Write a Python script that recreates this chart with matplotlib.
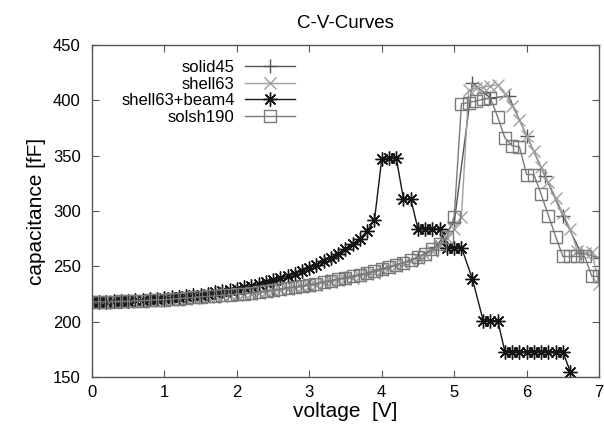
import matplotlib
matplotlib.use("Agg")
import matplotlib.pyplot as plt

plt.rcParams['font.family'] = ['Liberation Sans', 'DejaVu Sans']

# voltage grid shared by shell63 and solsh190 (0.1 V steps)
volt = [0.0, 0.1, 0.2, 0.3, 0.4, 0.5, 0.6, 0.7, 0.8, 0.9,
        1.0, 1.1, 1.2, 1.3, 1.4, 1.5, 1.6, 1.7, 1.8, 1.9,
        2.0, 2.1, 2.2, 2.3, 2.4, 2.5, 2.6, 2.7, 2.8, 2.9,
        3.0, 3.1, 3.2, 3.3, 3.4, 3.5, 3.6, 3.7, 3.8, 3.9,
        4.0, 4.1, 4.2, 4.3, 4.4, 4.5, 4.6, 4.7, 4.8, 4.9,
        5.0, 5.1, 5.2, 5.3, 5.4, 5.5, 5.6, 5.7, 5.8, 5.9,
        6.0, 6.1, 6.2, 6.3, 6.4, 6.5, 6.6, 6.7, 6.8, 6.9, 7.0]

solsh190 = [218, 218, 218, 218, 218.5, 218.5, 219, 219, 219.5, 220,
            220, 220.5, 221, 221.5, 222, 222.5, 223, 223.5, 224, 224.5,
            225, 225.5, 226, 227, 227.5, 228.5, 229.5, 230.5, 231.5, 232.5,
            233.5, 234.5, 236, 237, 238.5, 239.5, 241, 242.5, 244, 245.5,
            247.5, 249.5, 251.5, 253.5, 255.5, 258.5, 261.5, 265.5, 270, 277,
            295, 397, 398, 399.5, 401, 402, 385, 366, 359, 358,
            333, 333, 315, 296, 277, 259, 259, 259, 259, 241, 241]

shell63 = [217.5, 217.5, 217.5, 217.5, 218, 218, 218.5, 218.5, 219, 219.5,
           219.5, 220, 220.5, 221, 221.5, 222, 222.5, 223, 223.5, 224,
           224.5, 225, 225.5, 226, 226.5, 227.5, 228.5, 229.5, 230.5, 231.5,
           232.5, 233.5, 235, 236, 237.5, 238.5, 240, 241.5, 243, 244.5,
           246.5, 248.5, 250.5, 252.5, 254.5, 257.5, 260.5, 264, 268.5, 276,
           284, 295, 409, 411, 412, 413, 414, 406, 395, 382,
           368, 354, 340, 326, 312, 298, 284, 264, 262, 263, 234]

# solid45 was sampled every 0.25 V
volt_solid = [0.0, 0.25, 0.5, 0.75, 1.0, 1.25, 1.5, 1.75, 2.0, 2.25,
              2.5, 2.75, 3.0, 3.25, 3.5, 3.75, 4.0, 4.25, 4.5, 4.75,
              5.0, 5.25, 5.5, 5.75, 6.0, 6.25, 6.5, 6.75, 7.0]
solid45 = [218, 218, 218.5, 219, 220, 221, 222.5, 223.5, 225, 226.5,
           228.5, 231, 233.5, 236.5, 240, 243.5, 248, 252, 258, 268,
           290, 416, 402, 404, 368, 332, 296, 262, 258]

volt_beam = [0.0, 0.1, 0.2, 0.3, 0.4, 0.5, 0.6, 0.7, 0.8, 0.9,
             1.0, 1.1, 1.2, 1.3, 1.4, 1.5, 1.6, 1.7, 1.8, 1.9,
             2.0, 2.1, 2.2, 2.3, 2.4, 2.5, 2.6, 2.7, 2.8, 2.9,
             3.0, 3.1, 3.2, 3.3, 3.4, 3.5, 3.6, 3.7, 3.8, 3.9,
             4.0, 4.1, 4.2, 4.3, 4.4, 4.5, 4.6, 4.7, 4.8, 4.9,
             5.0, 5.1, 5.25, 5.4, 5.5, 5.6, 5.7, 5.8, 5.9,
             6.0, 6.1, 6.2, 6.3, 6.4, 6.5, 6.6]
beam4 = [218, 218, 218, 218.5, 218.5, 219, 219.5, 220, 220.5, 221,
         221.5, 222, 222.5, 223, 224, 224.5, 225.5, 226.5, 227.5, 228.5,
         230, 231, 232.5, 234, 235.5, 237.5, 239.5, 241.5, 243.5, 246,
         248.5, 251.5, 254.5, 258, 261.5, 265.5, 270, 275, 282, 292,
         347, 348, 348, 311, 311, 284, 284, 284, 284, 267,
         267, 267, 239, 201, 201, 201, 173, 173, 173,
         173, 173, 173, 173, 173, 173, 155]

fig = plt.figure(figsize=(6.04, 4.33), dpi=100)
ax = fig.add_axes([0.152, 0.129, 0.840, 0.767])

ax.plot(volt_solid, solid45, color='#555555', lw=1.0, marker='+', ms=10,
        mew=1.0, label='solid45')
ax.plot(volt, shell63, color='#a0a0a0', lw=1.0, marker='x', ms=8,
        mew=1.0, label='shell63')
ax.plot(volt_beam, beam4, color='#151515', lw=1.0, marker=(8, 2, 0), ms=10,
        mew=1.0, label='shell63+beam4')
ax.plot(volt, solsh190, color='#7a7a7a', lw=1.0, marker='s', ms=8.5,
        mfc='none', mew=1.0, label='solsh190')

ax.set_xlim(0, 7)
ax.set_ylim(150, 450)
ax.set_xticks([0, 1, 2, 3, 4, 5, 6, 7])
ax.set_yticks([150, 200, 250, 300, 350, 400, 450])
ax.tick_params(direction='in', top=True, right=True, length=5,
               labelsize=12, color='#555555')
ax.tick_params(axis='y', pad=8)
ax.tick_params(axis='x', pad=6)
for s in ax.spines.values():
    s.set_color('#555555')
    s.set_linewidth(1.0)

ax.set_title('C-V-Curves', fontsize=13.5, pad=12)
ax.set_xlabel('voltage  [V]', fontsize=15, labelpad=1)
ax.set_ylabel('capacitance [fF]', fontsize=15, labelpad=5)

ax.legend(loc='upper right', bbox_to_anchor=(0.40, 0.955), frameon=False,
          markerfirst=False, fontsize=12, handlelength=3.0,
          handletextpad=0.6, labelspacing=0.1, borderpad=0, borderaxespad=0)

fig.savefig('out.png', dpi=100)
